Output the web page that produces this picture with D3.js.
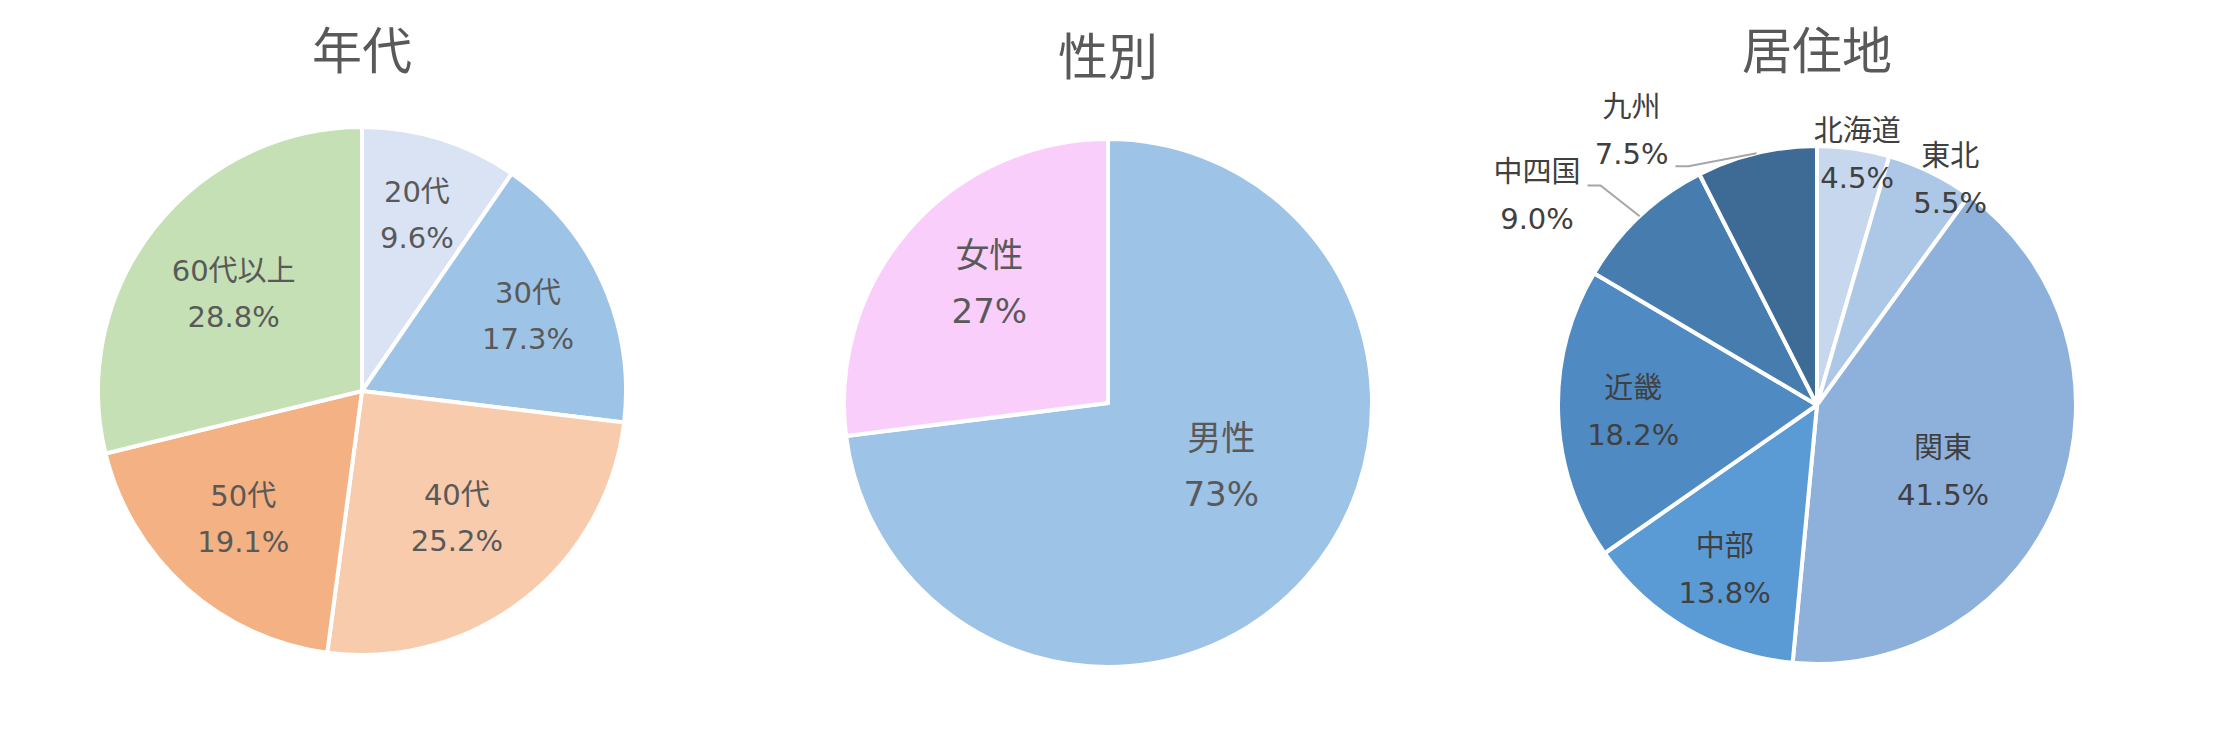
<!DOCTYPE html>
<html>
<head>
<meta charset="utf-8">
<script src="https://cdn.jsdelivr.net/npm/d3@7"></script>
<style>
  body { margin: 0; background: #fff; }
  svg { display: block; }
  .lbl { font-family: "DejaVu Sans", "Noto Sans CJK JP", sans-serif; }
  .ttl { font-family: "Noto Sans CJK JP", sans-serif; fill: #595959; }
</style>
</head>
<body>
<div id="viz"></div>
<script>
'use strict';

// 年代
var age_labels = ["20代", "30代", "40代", "50代", "60代以上"];
var age_values = [9.6, 17.3, 25.2, 19.1, 28.8];
var age_colors = ["#DAE3F3", "#9DC3E6", "#F8CBAD", "#F4B183", "#C5E0B4"];

// 性別
var gender_labels = ["男性", "女性"];
var gender_values = [73, 27];
var gender_colors = ["#9DC3E6", "#FACEFA"];

// 居住地
var region_labels = ["北海道", "東北", "関東", "中部", "近畿", "中四国", "九州"];
var region_values = [4.5, 5.5, 41.5, 13.8, 18.2, 9.0, 7.5];
var region_colors = ["#C6D7EE", "#ADC7E7", "#8EB1DC", "#5B9BD5", "#4F8BC2", "#477DAE", "#3E6B96"];

var width = 2234, height = 747;

var svg = d3.select("#viz").append("svg")
    .attr("width", width)
    .attr("height", height);

// label placement: [radius factor, angle shift in degrees]
var charts = [
    {
        title: "年代", cx: 362, cy: 391, r: 264, titleY: 47,
        labels: age_labels, values: age_values, colors: age_colors,
        fmt: d3.format(".1f"), fontSize: 29, gap: 46, textColor: "#595959",
        place: [[0.70, 0], [0.69, 0], [0.60, 1], [0.66, 1], [0.61, -1]],
        leaders: []
    },
    {
        title: "性別", cx: 1108, cy: 403, r: 264, titleY: 53,
        labels: gender_labels, values: gender_values, colors: gender_colors,
        fmt: d3.format("d"), fontSize: 34, gap: 56, textColor: "#595959",
        place: [[0.49, -12.5], [0.64, 4]],
        leaders: []
    },
    {
        title: "居住地", cx: 1817, cy: 405, r: 259, titleY: 47,
        labels: region_labels, values: region_values, colors: region_colors,
        fmt: d3.format(".1f"), fontSize: 29, gap: 47, textColor: "#404040",
        place: [[0.98, 1], [1.01, 4.5], [0.55, 7], [0.73, -1], [0.71, 0], [1.35, -10], [1.28, -20.5]],
        // leader lines for labels that sit outside the pie (index -> y shift of the line end)
        leaders: [{i: 5, dy: -10}, {i: 6, dy: 36}]
    }
];

charts.forEach(draw_pie);

function draw_pie(c) {
    var g = svg.append("g").attr("transform", "translate(" + c.cx + "," + c.cy + ")");

    var pie = d3.pie().sort(null).value(function(d) { return d; });
    var arcs = pie(c.values);
    var arc = d3.arc().innerRadius(0).outerRadius(c.r);

    g.selectAll("path.slice")
        .data(arcs)
        .enter().append("path")
        .attr("class", "slice")
        .attr("d", arc)
        .attr("fill", function(d, i) { return c.colors[i]; })
        .attr("stroke", "#fff")
        .attr("stroke-width", 4)
        .attr("stroke-linejoin", "round");

    svg.append("text")
        .attr("class", "ttl")
        .attr("x", c.cx)
        .attr("y", c.titleY)
        .attr("text-anchor", "middle")
        .attr("dominant-baseline", "central")
        .attr("font-size", 50)
        .text(c.title);

    var pos = arcs.map(function(d, i) {
        var a = (d.startAngle + d.endAngle) / 2 + c.place[i][1] * Math.PI / 180;
        var rr = c.place[i][0] * c.r;
        return [Math.sin(a) * rr, -Math.cos(a) * rr];
    });

    var texts = g.selectAll("text.lbl")
        .data(arcs)
        .enter().append("text")
        .attr("class", "lbl")
        .attr("text-anchor", "middle")
        .attr("font-size", c.fontSize)
        .attr("fill", c.textColor);

    texts.append("tspan")
        .attr("x", function(d, i) { return pos[i][0]; })
        .attr("y", function(d, i) { return pos[i][1] - c.gap / 2; })
        .attr("dominant-baseline", "central")
        .text(function(d, i) { return c.labels[i]; });

    texts.append("tspan")
        .attr("x", function(d, i) { return pos[i][0]; })
        .attr("y", function(d, i) { return pos[i][1] + c.gap / 2; })
        .attr("dominant-baseline", "central")
        .text(function(d) { return c.fmt(d.data) + "%"; });

    // leader lines from slice edge to the outside labels
    c.leaders.forEach(function(l) {
        var d = arcs[l.i];
        var a = (d.startAngle + d.endAngle) / 2;
        var start = [Math.sin(a) * c.r, -Math.cos(a) * c.r];
        var box = texts.nodes()[l.i].getBBox();
        var end = [box.x + box.width + 7, pos[l.i][1] + l.dy];
        var elbow = [end[0] + 13, end[1]];
        g.append("path")
            .attr("d", d3.line()([start, elbow, end]))
            .attr("fill", "none")
            .attr("stroke", "#A6A6A6")
            .attr("stroke-width", 2);
    });
}
</script>
</body>
</html>
